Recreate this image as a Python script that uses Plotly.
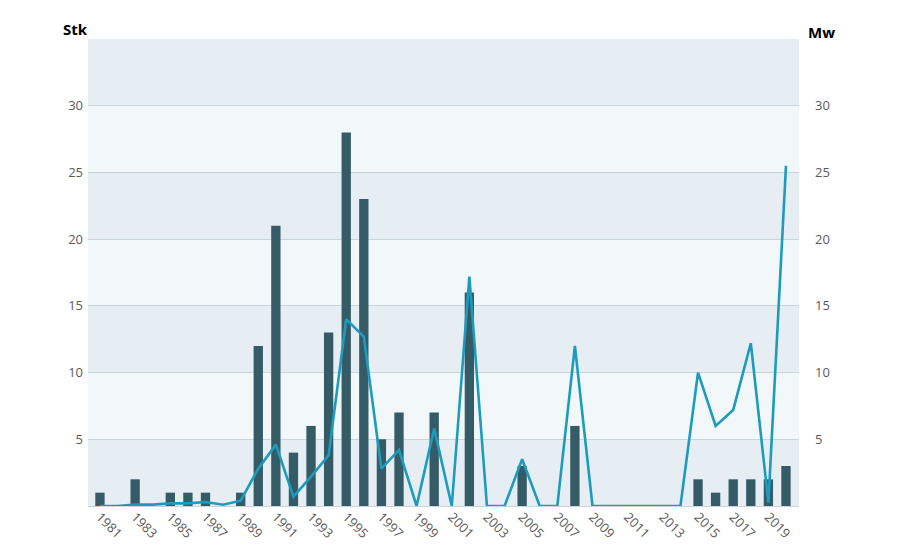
import plotly.graph_objects as go

# data
years = list(range(1981, 2021))
stk = [1, 0, 2, 0, 1, 1, 1, 0, 1, 12,
       21, 4, 6, 13, 28, 23, 5, 7, 0, 7,
       0, 16, 0, 0, 3, 0, 0, 6, 0, 0,
       0, 0, 0, 0, 2, 1, 2, 2, 2, 3]
mw = [0, 0, 0.1, 0.1, 0.2, 0.2, 0.3, 0.1, 0.4, 2.8,
      4.6, 0.7, 2.2, 3.8, 14.0, 12.7, 2.8, 4.2, 0, 5.8,
      0, 17.2, 0, 0, 3.5, 0, 0, 12.0, 0, 0,
      0, 0, 0, 0, 10.0, 6.0, 7.2, 12.2, 0.25, 25.5]
tick_years = years[::2]
y_ticks = [5, 10, 15, 20, 25, 30]

bar_col = '#345b66'
line_col = '#1d9bbf'
tick_font = dict(family='Open Sans', size=13, color='#5a5a5a')

fig = go.Figure()
fig.add_trace(go.Bar(x=years, y=stk, name='Stk', marker_color=bar_col,
                     marker_line_width=0))
fig.add_trace(go.Scatter(x=years, y=mw, name='Mw', yaxis='y2', mode='lines',
                         line=dict(color=line_col, width=2.6)))

# alternating background bands
for lo in [0, 10, 20, 30]:
    fig.add_shape(type='rect', xref='paper', yref='y', x0=0, x1=1, y0=lo, y1=lo + 5,
                  fillcolor='#e6eef3', line_width=0, layer='below')

# page body has an 8px margin, so the margins are shifted to compensate
fig.update_layout(
    width=900, height=550,
    margin=dict(l=80, r=109, t=31, b=52),
    paper_bgcolor='white', plot_bgcolor='#f2f8fa',
    showlegend=False, bargap=0.47,
    xaxis=dict(range=[1980.32, 2020.74], tickvals=tick_years,
               ticktext=[str(y) for y in tick_years], tickangle=45,
               tickfont=tick_font, showgrid=False, zeroline=False,
               ticks='', fixedrange=True, automargin=False),
    yaxis=dict(range=[0, 35], tickvals=y_ticks, tickfont=tick_font,
               showgrid=True, gridcolor='#c9d6d9', gridwidth=1,
               zeroline=True, zerolinecolor='#c9d6d9', zerolinewidth=1,
               ticklabelstandoff=4, automargin=False),
    yaxis2=dict(range=[0, 35], tickvals=y_ticks, tickfont=tick_font,
                overlaying='y', side='right', showgrid=False, zeroline=False,
                ticklabelstandoff=15, automargin=False),
    annotations=[
        dict(text='<b>Stk</b>', xref='paper', yref='paper', x=-0.0176, y=0.996,
             xanchor='center', yanchor='bottom', showarrow=False,
             font=dict(family='Open Sans', size=15, color='black')),
        dict(text='<b>Mw</b>', xref='paper', yref='paper', x=1.032, y=0.99,
             xanchor='center', yanchor='bottom', showarrow=False,
             font=dict(family='Open Sans', size=15, color='black')),
    ],
)

fig.write_html('out.html')
